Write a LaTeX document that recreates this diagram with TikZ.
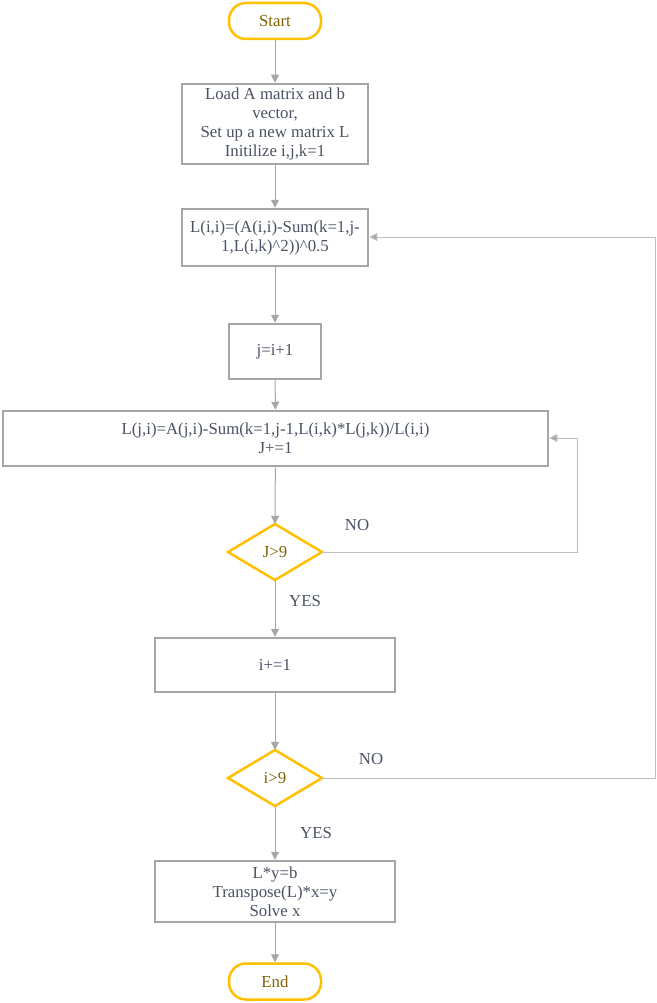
\documentclass[tikz,border=0pt]{standalone}
\usepackage{fontspec}
\setmainfont{Liberation Serif}
\usetikzlibrary{arrows.meta}
\definecolor{boxgray}{HTML}{A6A6A6}
\definecolor{linegray}{HTML}{A6A6A6}
\definecolor{loopgray}{HTML}{BFBFBF}
\definecolor{gold}{HTML}{FFC000}
\definecolor{goldtext}{HTML}{7F6000}
\definecolor{txt}{HTML}{4A5263}
\tikzset{
  base/.style={inner sep=0pt, font=\fontsize{16.8}{19}\selectfont, align=center, text=txt},
  procbox/.style={base, draw=boxgray, line width=2.5pt, fill=white},
  term/.style={base, draw=gold, line width=2.5pt, rounded corners=17pt, minimum width=92pt, minimum height=36pt, text=goldtext},
  decis/.style={base, draw=gold, line width=2.5pt, text=goldtext},
  arr/.style={draw=linegray, line width=1pt, -{Triangle[length=8pt,width=8pt]}},
  looparr/.style={draw=loopgray, line width=1pt, -{Triangle[length=8pt,width=8pt,fill=linegray]}},
  lbl/.style={base}
}
\begin{document}
\begin{tikzpicture}[x=1pt,y=-1pt]
\useasboundingbox (0,0) rectangle (656,1003);
\node[term] (start) at (275,21) {Start};
\node[procbox, minimum width=186pt, minimum height=80pt] (b1) at (275,124) {Load A matrix and b\\vector,\\Set up a new matrix L\\Initilize i,j,k=1};
\node[procbox, minimum width=186pt, minimum height=57pt] (b2) at (275,237.5) {L(i,i)=(A(i,i)-Sum(k=1,j-\\1,L(i,k)\^{}2))\^{}0.5};
\node[procbox, minimum width=92pt, minimum height=55pt] (b3) at (275,351.5) {j=i+1};
\node[procbox, minimum width=545pt, minimum height=55pt] (b4) at (275.5,438.5) {L(j,i)=A(j,i)-Sum(k=1,j-1,L(i,k)*L(j,k))/L(i,i)\\J+=1};
\draw[decis] (228,552) -- (275,524) -- (322,552) -- (275,580) -- cycle;
\node[base, minimum width=94pt, minimum height=56pt, text=goldtext] (d1) at (275,552) {J>9};
\node[procbox, minimum width=240pt, minimum height=54pt] (b5) at (275,665) {i+=1};
\draw[decis] (228,778) -- (275,750) -- (322,778) -- (275,806) -- cycle;
\node[base, minimum width=94pt, minimum height=56pt, text=goldtext] (d2) at (275,778) {i>9};
\node[procbox, minimum width=240pt, minimum height=61pt] (b6) at (275,891.5) {L*y=b\\Transpose(L)*x=y\\Solve x};
\node[term] (end) at (275,981.5) {End};
\draw[arr] (start) -- (b1);
\draw[arr] (b1) -- (b2);
\draw[arr] (b2) -- (b3);
\draw[arr] (b3) -- (b4);
\draw[arr] (b4) -- (d1.north);
\draw[arr] (d1.south) -- (b5);
\draw[arr] (b5) -- (d2.north);
\draw[arr] (d2.south) -- (b6);
\draw[arr] (b6) -- (end);
\draw[looparr] (d1.east) -- ++(255,0) |- ([yshift=0.5pt]b4.east);
\draw[looparr] (d2.east) -- ++(333,0) |- ([yshift=0.5pt]b2.east);
\node[lbl] (no1) at (357,525) {NO};
\node[lbl] (yes1) at (305,601) {YES};
\node[lbl] (no2) at (371,759) {NO};
\node[lbl] (yes2) at (316,833) {YES};
\end{tikzpicture}
\end{document}
